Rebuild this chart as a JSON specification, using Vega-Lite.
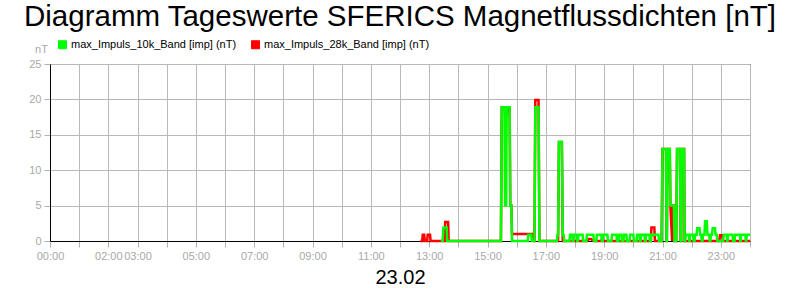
{
  "$schema": "https://vega.github.io/schema/vega-lite/v6.json",
  "width": 700,
  "height": 177,
  "autosize": {"type": "none"},
  "padding": {"left": 50, "top": 64, "right": 50, "bottom": 59},
  "background": "white",
  "config": {
    "font": "Liberation Sans",
    "view": {"stroke": "black", "strokeWidth": 1},
    "axis": {
      "gridColor": "#b8b8b8",
      "gridWidth": 1,
      "gridOpacity": 1,
      "domainColor": "black",
      "domainWidth": 1,
      "tickColor": "#b0b0b0",
      "tickSize": 6,
      "labelColor": "#a8a8a8",
      "labelFont": "Liberation Sans",
      "labelFontSize": 11,
      "labelPadding": 3
    }
  },
  "title": {
    "text": "Diagramm Tageswerte SFERICS Magnetflussdichten [nT]",
    "font": "Liberation Sans",
    "fontSize": 29.5,
    "fontWeight": "normal",
    "color": "black",
    "anchor": "middle",
    "offset": 7
  },
  "data": {
    "values": [
      {"h": 12.7, "r": 0},
      {"h": 12.76, "r": 0},
      {"h": 12.78, "r": 0.9},
      {"h": 12.83, "r": 0.9},
      {"h": 12.85, "r": 0},
      {"h": 12.93, "r": 0},
      {"h": 12.95, "r": 0.9},
      {"h": 13.03, "r": 0.9},
      {"h": 13.05, "r": 0},
      {"h": 13.4, "g": 0, "r": 0},
      {"h": 13.46, "g": 0, "r": 0},
      {"h": 13.49, "g": 1.9, "r": 0},
      {"h": 13.53, "g": 1.9, "r": 0},
      {"h": 13.55, "g": 1.9, "r": 2.7},
      {"h": 13.6, "g": 1.9, "r": 2.7},
      {"h": 13.62, "g": 0, "r": 2.7},
      {"h": 13.65, "g": 0, "r": 2.7},
      {"h": 13.67, "g": 0, "r": 0},
      {"h": 15.46, "g": 0, "r": 0},
      {"h": 15.49, "g": 18.9, "r": 18.9},
      {"h": 15.58, "g": 18.9, "r": 18.9},
      {"h": 15.6, "g": 5, "r": 17.9},
      {"h": 15.64, "g": 5, "r": 17.9},
      {"h": 15.66, "g": 18.9, "r": 17.9},
      {"h": 15.68, "g": 18.9, "r": 18.9},
      {"h": 15.76, "g": 18.9, "r": 18.9},
      {"h": 15.78, "g": 5, "r": 5},
      {"h": 15.82, "g": 5, "r": 5},
      {"h": 15.84, "g": 0, "r": 1},
      {"h": 16.38, "g": 0, "r": 1},
      {"h": 16.4, "g": 0.9, "r": 1},
      {"h": 16.5, "g": 0.9, "r": 1},
      {"h": 16.52, "g": 0, "r": 1},
      {"h": 16.56, "g": 0, "r": 1},
      {"h": 16.58, "g": 0, "r": 0},
      {"h": 16.61, "g": 0, "r": 0},
      {"h": 16.64, "g": 18.9, "r": 19.9},
      {"h": 16.75, "g": 18.9, "r": 19.9},
      {"h": 16.78, "g": 0, "r": 0},
      {"h": 17.38, "g": 0, "r": 0},
      {"h": 17.4, "g": 0.9, "r": 0},
      {"h": 17.42, "g": 0.9, "r": 0},
      {"h": 17.45, "g": 14, "r": 14},
      {"h": 17.55, "g": 14, "r": 14},
      {"h": 17.58, "g": 0.9, "r": 0},
      {"h": 17.61, "g": 0.9, "r": 0},
      {"h": 17.63, "g": 0, "r": 0},
      {"h": 17.81, "g": 0, "r": 0},
      {"h": 17.83, "g": 0.9, "r": 0},
      {"h": 17.9, "g": 0.9, "r": 0},
      {"h": 17.92, "g": 0, "r": 0},
      {"h": 17.95, "g": 0, "r": 0},
      {"h": 17.97, "g": 0.9, "r": 0},
      {"h": 18.06, "g": 0.9, "r": 0},
      {"h": 18.08, "g": 0, "r": 0},
      {"h": 18.1, "g": 0, "r": 0},
      {"h": 18.12, "g": 0.9, "r": 0},
      {"h": 18.26, "g": 0.9, "r": 0},
      {"h": 18.28, "g": 0, "r": 0},
      {"h": 18.39, "g": 0, "r": 0},
      {"h": 18.41, "g": 0.9, "r": 0},
      {"h": 18.48, "g": 0.9, "r": 0.3},
      {"h": 18.55, "g": 0.9, "r": 0.3},
      {"h": 18.63, "g": 0.9, "r": 0},
      {"h": 18.65, "g": 0, "r": 0},
      {"h": 18.73, "g": 0, "r": 0},
      {"h": 18.75, "g": 0.9, "r": 0},
      {"h": 18.9, "g": 0.9, "r": 0},
      {"h": 18.92, "g": 0, "r": 0.3},
      {"h": 18.95, "g": 0, "r": 0.3},
      {"h": 18.97, "g": 0.9, "r": 0},
      {"h": 19.11, "g": 0.9, "r": 0},
      {"h": 19.13, "g": 0, "r": 0},
      {"h": 19.25, "g": 0, "r": 0},
      {"h": 19.27, "g": 0.9, "r": 0},
      {"h": 19.42, "g": 0.9, "r": 0},
      {"h": 19.44, "g": 0, "r": 0},
      {"h": 19.49, "g": 0, "r": 0},
      {"h": 19.51, "g": 0.9, "r": 0},
      {"h": 19.59, "g": 0.9, "r": 0},
      {"h": 19.61, "g": 0, "r": 0},
      {"h": 19.66, "g": 0, "r": 0},
      {"h": 19.68, "g": 0.9, "r": 0},
      {"h": 19.76, "g": 0.9, "r": 0},
      {"h": 19.78, "g": 0, "r": 0},
      {"h": 19.87, "g": 0, "r": 0},
      {"h": 19.89, "g": 0.9, "r": 0},
      {"h": 20.0, "g": 0.9, "r": 0},
      {"h": 20.02, "g": 0, "r": 0},
      {"h": 20.11, "g": 0, "r": 0},
      {"h": 20.13, "g": 0.9, "r": 0},
      {"h": 20.21, "g": 0.9, "r": 0},
      {"h": 20.23, "g": 0, "r": 0},
      {"h": 20.25, "g": 0, "r": 0},
      {"h": 20.27, "g": 0.9, "r": 0},
      {"h": 20.38, "g": 0.9, "r": 0},
      {"h": 20.4, "g": 0, "r": 0},
      {"h": 20.42, "g": 0, "r": 0},
      {"h": 20.44, "g": 0.9, "r": 0},
      {"h": 20.55, "g": 0.9, "r": 0},
      {"h": 20.57, "g": 0, "r": 0},
      {"h": 20.6, "g": 0, "r": 0},
      {"h": 20.62, "g": 0.9, "r": 1.9},
      {"h": 20.72, "g": 0.9, "r": 1.9},
      {"h": 20.74, "g": 0.9, "r": 0},
      {"h": 20.86, "g": 0.9, "r": 0},
      {"h": 20.88, "g": 0, "r": 0},
      {"h": 20.97, "g": 0, "r": 0},
      {"h": 21.0, "g": 13, "r": 13},
      {"h": 21.12, "g": 13, "r": 13},
      {"h": 21.14, "g": 0, "r": 0},
      {"h": 21.15, "g": 0, "r": 0},
      {"h": 21.17, "g": 13, "r": 13},
      {"h": 21.25, "g": 13, "r": 13},
      {"h": 21.27, "g": 5, "r": 5},
      {"h": 21.33, "g": 5, "r": 0},
      {"h": 21.34, "g": 5, "r": 5},
      {"h": 21.39, "g": 5, "r": 5},
      {"h": 21.41, "g": 0, "r": 0},
      {"h": 21.47, "g": 0, "r": 0},
      {"h": 21.5, "g": 13, "r": 13},
      {"h": 21.6, "g": 13, "r": 13},
      {"h": 21.62, "g": 0, "r": 0},
      {"h": 21.64, "g": 0, "r": 0},
      {"h": 21.66, "g": 13, "r": 13},
      {"h": 21.74, "g": 13, "r": 13},
      {"h": 21.76, "g": 0, "r": 0},
      {"h": 21.78, "g": 0, "r": 0},
      {"h": 21.8, "g": 0.9, "r": 0},
      {"h": 21.9, "g": 0.9, "r": 0},
      {"h": 21.92, "g": 0, "r": 0},
      {"h": 21.93, "g": 0, "r": 0},
      {"h": 21.95, "g": 0.9, "r": 0},
      {"h": 22.05, "g": 0.9, "r": 0},
      {"h": 22.07, "g": 0, "r": 0},
      {"h": 22.1, "g": 0, "r": 0},
      {"h": 22.12, "g": 0.9, "r": 0},
      {"h": 22.17, "g": 0.9, "r": 0},
      {"h": 22.19, "g": 1.8, "r": 0},
      {"h": 22.27, "g": 1.8, "r": 0},
      {"h": 22.29, "g": 0.9, "r": 0},
      {"h": 22.33, "g": 0.9, "r": 0},
      {"h": 22.35, "g": 0, "r": 0},
      {"h": 22.37, "g": 0, "r": 0},
      {"h": 22.39, "g": 0.9, "r": 0},
      {"h": 22.44, "g": 0.9, "r": 0},
      {"h": 22.46, "g": 2.8, "r": 0},
      {"h": 22.52, "g": 2.8, "r": 0},
      {"h": 22.54, "g": 0.9, "r": 0},
      {"h": 22.6, "g": 0.9, "r": 0},
      {"h": 22.62, "g": 0, "r": 0},
      {"h": 22.64, "g": 0, "r": 0},
      {"h": 22.66, "g": 0.9, "r": 0},
      {"h": 22.7, "g": 0.9, "r": 0},
      {"h": 22.72, "g": 1.8, "r": 0},
      {"h": 22.8, "g": 1.8, "r": 0},
      {"h": 22.82, "g": 0.9, "r": 0},
      {"h": 22.86, "g": 0.9, "r": 0},
      {"h": 22.88, "g": 0, "r": 0},
      {"h": 22.95, "g": 0, "r": 0},
      {"h": 22.97, "g": 0, "r": 0.8},
      {"h": 23.05, "g": 0, "r": 0.8},
      {"h": 23.07, "g": 0, "r": 0},
      {"h": 23.08, "g": 0, "r": 0},
      {"h": 23.1, "g": 0.9, "r": 0},
      {"h": 23.2, "g": 0.9, "r": 0},
      {"h": 23.22, "g": 0, "r": 0},
      {"h": 23.23, "g": 0, "r": 0},
      {"h": 23.25, "g": 0.9, "r": 0},
      {"h": 23.4, "g": 0.9, "r": 0},
      {"h": 23.42, "g": 0, "r": 0},
      {"h": 23.47, "g": 0, "r": 0},
      {"h": 23.49, "g": 0.9, "r": 0},
      {"h": 23.65, "g": 0.9, "r": 0},
      {"h": 23.67, "g": 0, "r": 0},
      {"h": 23.68, "g": 0, "r": 0},
      {"h": 23.7, "g": 0.9, "r": 0},
      {"h": 23.84, "g": 0.9, "r": 0},
      {"h": 23.86, "g": 0, "r": 0},
      {"h": 23.87, "g": 0, "r": 0},
      {"h": 23.89, "g": 0.9, "r": 0},
      {"h": 24.0, "g": 0.9, "r": 0}
    ]
  },
  "encoding": {
    "x": {
      "field": "h",
      "type": "quantitative",
      "scale": {"domain": [0, 24], "nice": false, "zero": false},
      "axis": {
        "values": [0,1,2,3,4,5,6,7,8,9,10,11,12,13,14,15,16,17,18,19,20,21,22,23,24],
        "labelExpr": "indexof([0,2,3,5,7,9,11,13,15,17,19,21,23], datum.value) >= 0 ? (datum.value < 10 ? '0' : '') + datum.value + ':00' : ''",
        "labelFlush": false,
        "labelOverlap": false,
        "title": "23.02",
        "titleFont": "Liberation Sans",
        "titleFontSize": 20,
        "titleFontWeight": "normal",
        "titleColor": "black",
        "titlePadding": 6
      }
    }
  },
  "layer": [
    {
      "mark": {"type": "line", "strokeWidth": 2.5, "interpolate": "linear"},
      "encoding": {
        "y": {
          "field": "r",
          "type": "quantitative",
          "scale": {"domain": [0, 25], "nice": false},
          "axis": {
            "values": [0, 5, 10, 15, 20, 25],
            "labelOverlap": false,
            "title": "nT",
            "titleAngle": 0,
            "titleAlign": "center",
            "titleBaseline": "bottom",
            "titleX": -9,
            "titleY": -10,
            "titleFont": "Liberation Sans",
            "titleFontSize": 11,
            "titleFontWeight": "normal",
            "titleColor": "#a8a8a8"
          }
        },
        "color": {
          "datum": "max_Impuls_28k_Band [imp] (nT)",
          "scale": {
            "domain": ["max_Impuls_10k_Band [imp] (nT)", "max_Impuls_28k_Band [imp] (nT)"],
            "range": ["#00ff00", "#ff0000"]
          },
          "legend": {
            "title": null,
            "orient": "none",
            "legendX": 7,
            "legendY": -25,
            "direction": "horizontal",
            "symbolType": "square",
            "symbolSize": 64,
            "symbolStrokeWidth": 1,
            "labelFont": "Liberation Sans",
            "labelFontSize": 11,
            "labelColor": "black",
            "labelLimit": 400,
            "columnPadding": 12,
            "labelOffset": 3,
            "encode": {
              "symbols": {
                "update": {
                  "fill": {"scale": "color", "field": "value"},
                  "fillOpacity": {"value": 1},
                  "stroke": {"value": "#333333"},
                  "strokeWidth": {"value": 1}
                }
              }
            }
          }
        }
      }
    },
    {
      "mark": {"type": "line", "strokeWidth": 2.5, "interpolate": "linear"},
      "encoding": {
        "y": {
          "field": "g",
          "type": "quantitative",
          "scale": {"domain": [0, 25], "nice": false},
          "axis": {
            "values": [0, 5, 10, 15, 20, 25],
            "labelOverlap": false,
            "title": "nT",
            "titleAngle": 0,
            "titleAlign": "center",
            "titleBaseline": "bottom",
            "titleX": -9,
            "titleY": -10,
            "titleFont": "Liberation Sans",
            "titleFontSize": 11,
            "titleFontWeight": "normal",
            "titleColor": "#a8a8a8"
          }
        },
        "color": {"datum": "max_Impuls_10k_Band [imp] (nT)"}
      }
    }
  ]
}
